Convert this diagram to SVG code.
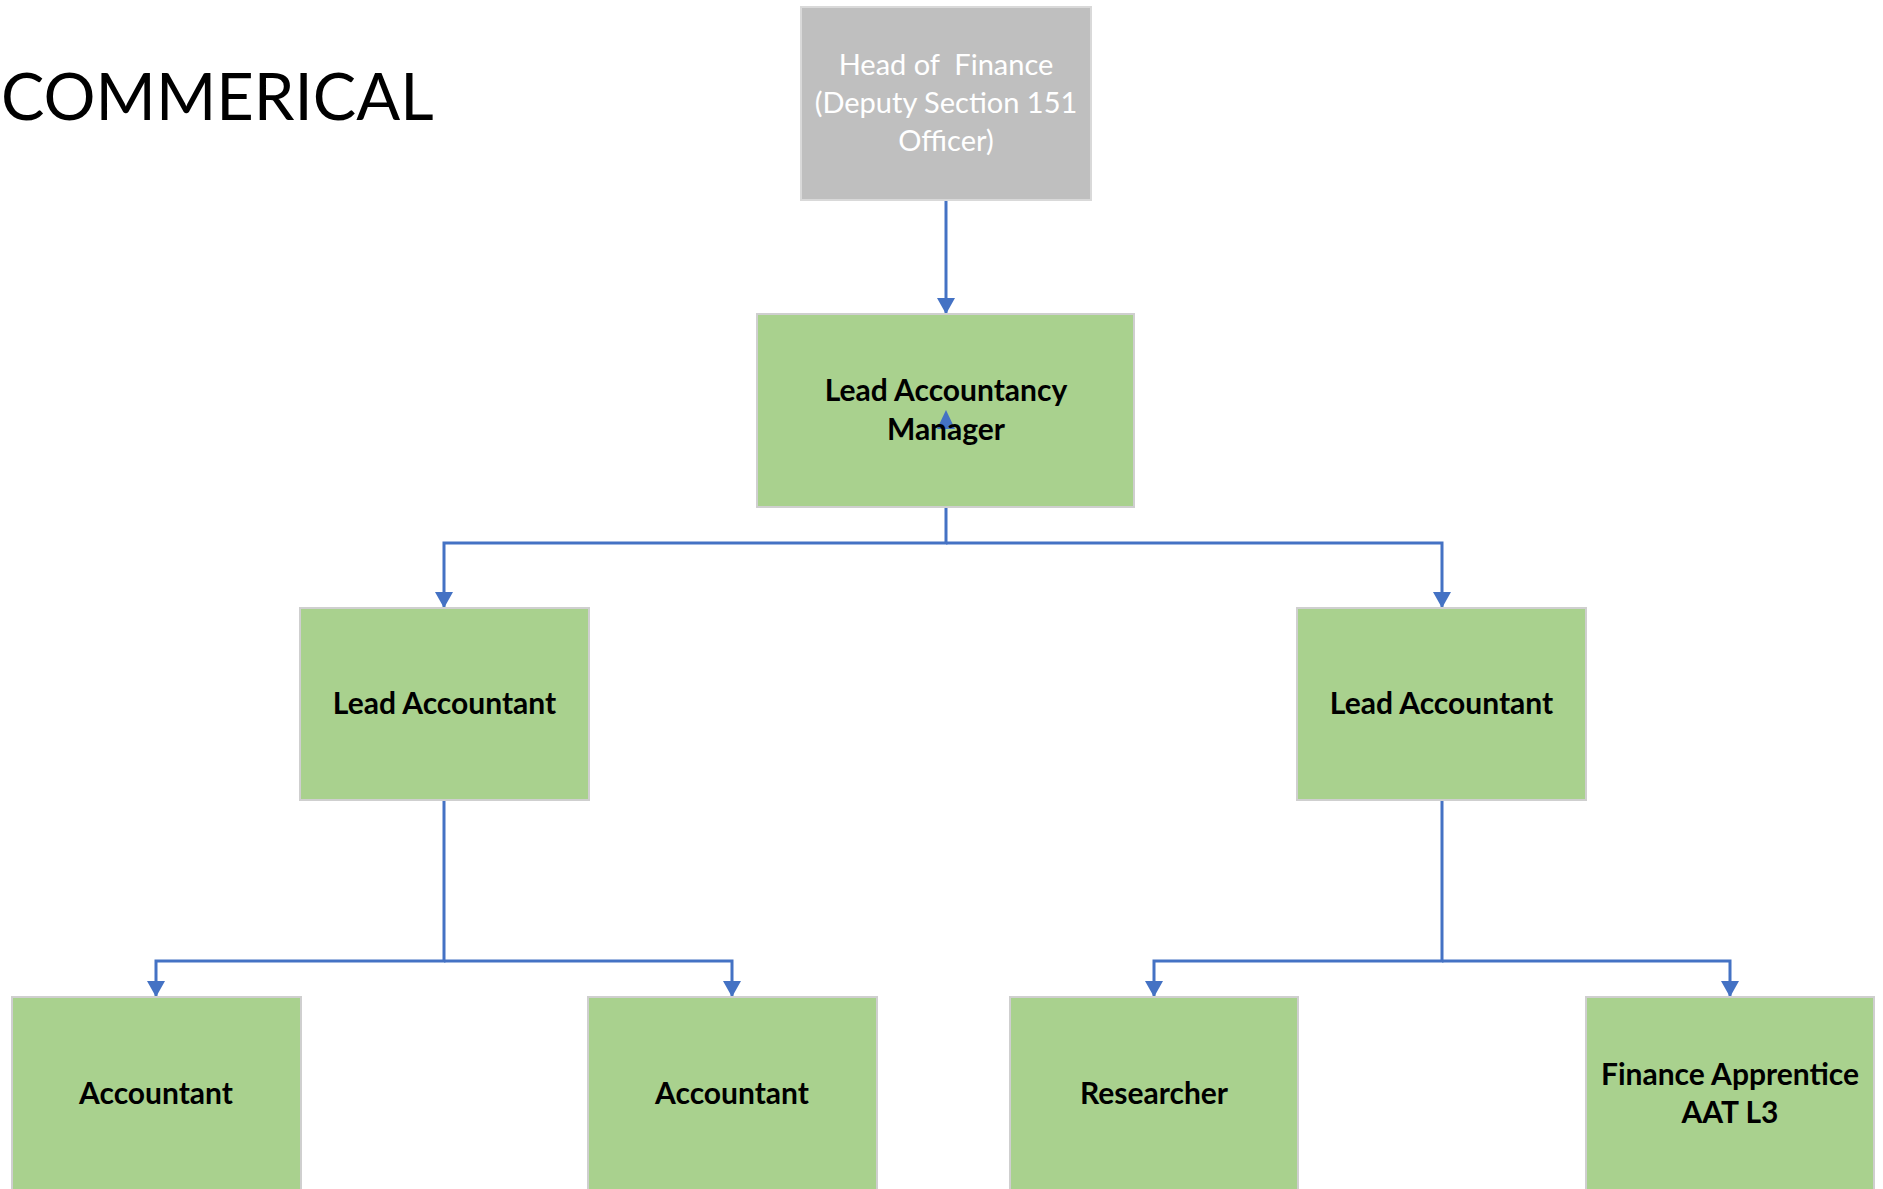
<svg xmlns="http://www.w3.org/2000/svg" width="1883" height="1189" viewBox="0 0 1883 1189">
<style>
.box{fill:#A9D18E;stroke:#CFCFCF;stroke-width:2}
.grey{fill:#BFBFBF;stroke:#D9D9D9;stroke-width:2}
.lbl{font-family:Lato,"Liberation Sans",sans-serif;font-weight:bold;font-size:30px;fill:#000;text-anchor:middle}
.wlbl{font-family:Lato,"Liberation Sans",sans-serif;font-size:29px;fill:#FFFFFF;text-anchor:middle;white-space:pre}
.title{font-family:Lato,"Liberation Sans",sans-serif;font-size:65px;fill:#000}
.conn{fill:none;stroke:#4472C4;stroke-width:3}
</style>
<defs>
<marker id="arr" markerUnits="userSpaceOnUse" markerWidth="18" markerHeight="18" refX="16" refY="9" orient="auto">
<path d="M0,0 L16,9 L0,18 Z" fill="#4472C4"/>
</marker>
</defs>
<rect width="1883" height="1189" fill="#FFFFFF"/>
<text class="title" x="1" y="120">COMMERICAL</text>
<g id="connectors">
<path class="conn" d="M946,200 V314" marker-end="url(#arr)"/>
<path class="conn" d="M946,507 V543 H444 V608" marker-end="url(#arr)"/>
<path class="conn" d="M946,543 H1442 V608" marker-end="url(#arr)"/>
<path class="conn" d="M444,800 V961 H156 V997" marker-end="url(#arr)"/>
<path class="conn" d="M444,961 H732 V997" marker-end="url(#arr)"/>
<path class="conn" d="M1442,800 V961 H1154 V997" marker-end="url(#arr)"/>
<path class="conn" d="M1442,961 H1730 V997" marker-end="url(#arr)"/>
</g>
<g id="head">
<rect class="grey" x="801" y="7" width="290" height="193"/>
<text class="wlbl" x="946" y="75">Head of  Finance</text>
<text class="wlbl" x="946" y="113">(Deputy Section 151</text>
<text class="wlbl" x="946" y="151">Officer)</text>
</g>
<g id="manager">
<rect class="box" x="757" y="314" width="377" height="193"/>
<polygon points="946,410 937,429 955,429" fill="#4472C4"/>
<text class="lbl" x="946" y="401">Lead Accountancy</text>
<text class="lbl" x="946" y="440">Manager</text>
</g>
<g id="lead1">
<rect class="box" x="300" y="608" width="289" height="192"/>
<text class="lbl" x="444.5" y="714">Lead Accountant</text>
</g>
<g id="lead2">
<rect class="box" x="1297" y="608" width="289" height="192"/>
<text class="lbl" x="1441.5" y="714">Lead Accountant</text>
</g>
<g id="acc1">
<rect class="box" x="12" y="997" width="289" height="220"/>
<text class="lbl" x="156" y="1104">Accountant</text>
</g>
<g id="acc2">
<rect class="box" x="588" y="997" width="289" height="220"/>
<text class="lbl" x="732" y="1104">Accountant</text>
</g>
<g id="researcher">
<rect class="box" x="1010" y="997" width="288" height="220"/>
<text class="lbl" x="1154" y="1104">Researcher</text>
</g>
<g id="apprentice">
<rect class="box" x="1586" y="997" width="288" height="220"/>
<text class="lbl" x="1730" y="1085">Finance Apprentice</text>
<text class="lbl" x="1730" y="1123">AAT L3</text>
</g>
</svg>
